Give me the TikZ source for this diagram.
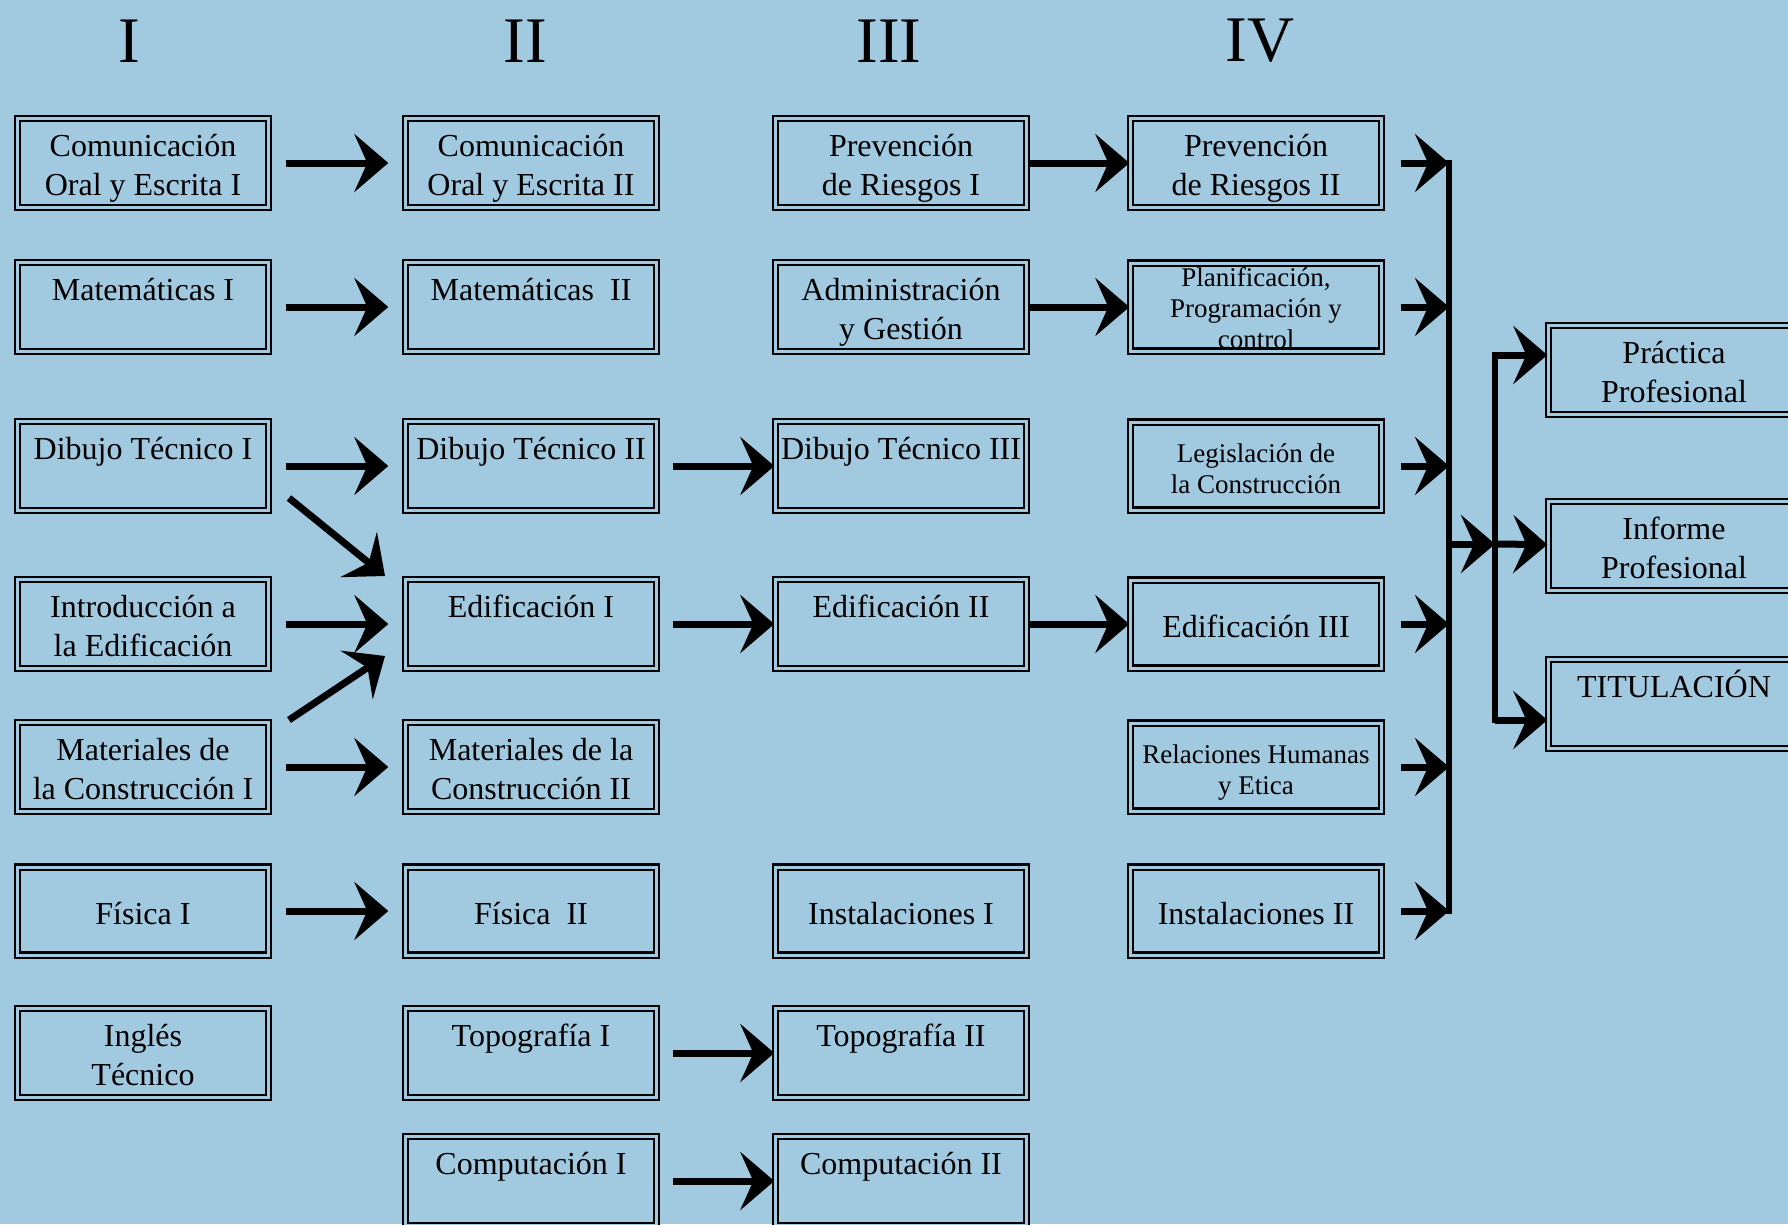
\documentclass[tikz,border=0pt]{standalone}
\usepackage{fontspec}
\setmainfont{Liberation Serif}
\usetikzlibrary{arrows.meta}
\definecolor{fondo}{RGB}{161,201,224}
\newcommand{\tope}{\rule{0pt}{\dimexpr0.7\baselineskip+11pt\relax}}

\begin{document}
\begin{tikzpicture}[
    x=1pt, y=-1pt,
    course/.style={rectangle, draw=black, line width=2.4pt, double=fondo,
        double distance=3pt, minimum width=251pt, minimum height=88pt,
        inner sep=0pt, align=center, font=\fontsize{32}{39}\selectfont},
    small/.style={font=\fontsize{27}{31}\selectfont},
    level/.style={inner sep=0pt, font=\fontsize{65}{70}\selectfont},
    link/.style={line width=7pt, -{Stealth[length=34pt, width=58pt, inset=13pt]}},
    bus/.style={line width=6pt, line cap=rect}
]
    \useasboundingbox (0,0) rectangle (1788,1224);
    \clip (0,0) rectangle (1788,1224);
    \fill[fondo] (0,0) rectangle (1788,1224);

    \node[level] (lv1) at (129,41) {I};
    \node[level] (lv2) at (525,41) {II};
    \node[level] (lv3) at (889,41) {III};
    \node[level] (lv4) at (1260,41) {IV};

    \node[course] (com1) at (143,163) {\tope Comunicación\\Oral y Escrita I\strut};
    \node[course] (mat1) at (143,307) {\tope Matemáticas I\\\strut};
    \node[course] (dib1) at (143,466) {\tope Dibujo Técnico I\\\strut};
    \node[course] (intro) at (143,624) {\tope Introducción a\\la Edificación\strut};
    \node[course] (mac1) at (143,767) {\tope Materiales de\\la Construcción I\strut};
    \node[course] (fis1) at (143,911) {\tope Física I\strut};
    \node[course] (ing) at (143,1053) {\tope Inglés\\Técnico\strut};

    \node[course] (com2) at (531,163) {\tope Comunicación\\Oral y Escrita II\strut};
    \node[course] (mat2) at (531,307) {\tope Matemáticas\ \ II\\\strut};
    \node[course] (dib2) at (531,466) {\tope Dibujo Técnico II\\\strut};
    \node[course] (edi1) at (531,624) {\tope Edificación I\\\strut};
    \node[course] (mac2) at (531,767) {\tope Materiales de la\\Construcción II\strut};
    \node[course] (fis2) at (531,911) {\tope Física\ \ II\strut};
    \node[course] (top1) at (531,1053) {\tope Topografía I\\\strut};
    \node[course] (cmp1) at (531,1181) {\tope Computación I\\\strut};

    \node[course] (prev1) at (901,163) {\tope Prevención\\de Riesgos I\strut};
    \node[course] (adm) at (901,307) {\tope Administración\\y Gestión\strut};
    \node[course] (dib3) at (901,466) {\tope Dibujo Técnico III\\\strut};
    \node[course] (edi2) at (901,624) {\tope Edificación II\\\strut};
    \node[course] (ins1) at (901,911) {\tope Instalaciones I\strut};
    \node[course] (top2) at (901,1053) {\tope Topografía II\\\strut};
    \node[course] (cmp2) at (901,1181) {\tope Computación II\\\strut};

    \node[course] (prev2) at (1256,163) {\tope Prevención\\de Riesgos II\strut};
    \node[course, small] (plan) at (1256,307) {\strut Planificación,\\Programación y\\control};
    \node[course, small] (leg) at (1256,466) {\tope Legislación de\\la Construcción\strut};
    \node[course] (edi3) at (1256,624) {\tope Edificación III\strut};
    \node[course, small] (rel) at (1256,767) {\tope Relaciones Humanas\\y Etica\strut};
    \node[course] (ins2) at (1256,911) {\tope Instalaciones II\strut};

    \node[course] (prac) at (1674,370) {\tope Práctica\\Profesional\strut};
    \node[course] (inf) at (1674,546) {\tope Informe\\Profesional\strut};
    \node[course] (tit) at (1674,704) {\tope TITULACIÓN\\\strut};

    \coordinate (p1) at (289,498);
    \coordinate (p2) at (385,576);
    \coordinate (p3) at (289,720);
    \coordinate (p4) at (385,656);
    \coordinate (b1) at (1449,163);
    \coordinate (b2) at (1449,307);
    \coordinate (b3) at (1449,466);
    \coordinate (b4) at (1449,624);
    \coordinate (b5) at (1449,767);
    \coordinate (b6) at (1449,911);
    \coordinate (bm) at (1449,544);
    \coordinate (vm) at (1495,544);
    \coordinate (v1) at (1495,355);
    \coordinate (v3) at (1495,720);

    \draw[link, shorten <=16pt, shorten >=16pt] (com1) -- (com2);
    \draw[link, shorten <=16pt, shorten >=16pt] (mat1) -- (mat2);
    \draw[link, shorten <=16pt, shorten >=16pt] (dib1) -- (dib2);
    \draw[link, shorten <=16pt, shorten >=16pt] (intro) -- (edi1);
    \draw[link, shorten <=16pt, shorten >=16pt] (mac1) -- (mac2);
    \draw[link, shorten <=16pt, shorten >=16pt] (fis1) -- (fis2);
    \draw[link] (p1) -- (p2);
    \draw[link] (p3) -- (p4);

    \draw[link, shorten <=15pt] (dib2) -- (dib3);
    \draw[link, shorten <=15pt] (edi1) -- (edi2);
    \draw[link, shorten <=15pt] (top1) -- (top2);
    \draw[link, shorten <=15pt] (cmp1) -- (cmp2);

    \draw[link] (prev1) -- (prev2);
    \draw[link] (adm) -- (plan);
    \draw[link] (edi2) -- (edi3);

    \draw[link, shorten <=18pt] (prev2) -- (b1);
    \draw[link, shorten <=18pt] (plan) -- (b2);
    \draw[link, shorten <=18pt] (leg) -- (b3);
    \draw[link, shorten <=18pt] (edi3) -- (b4);
    \draw[link, shorten <=18pt] (rel) -- (b5);
    \draw[link, shorten <=18pt] (ins2) -- (b6);
    \draw[bus] (b1) -- (b6);

    \draw[link] (bm) -- (vm);
    \draw[link] (vm) -- (inf);
    \draw[bus] (v1) -- (v3);
    \draw[link] (v1) -- (v1 -| prac.west);
    \draw[link] (v3) -- (v3 -| tit.west);
\end{tikzpicture}
\end{document}
